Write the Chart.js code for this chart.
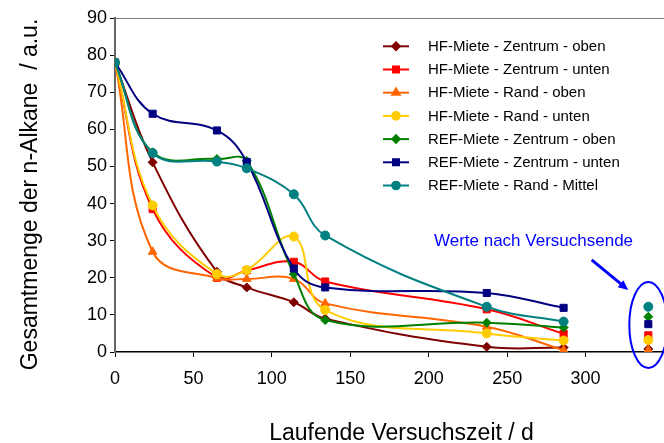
<!DOCTYPE html>
<html><head><meta charset="utf-8">
<script src="https://cdn.jsdelivr.net/npm/chart.js@4/dist/chart.umd.min.js"></script>
<style>html,body{margin:0;padding:0;background:#fff;}canvas{display:block;}</style>
</head><body>
<canvas id="c" width="664" height="443"></canvas>
<script>
// ---- data ----
const days = [0, 24, 65, 84, 114, 134, 237, 286];
const endDay = 340;
const seriesNames = [
  'HF-Miete - Zentrum - oben',
  'HF-Miete - Zentrum - unten',
  'HF-Miete - Rand - oben',
  'HF-Miete - Rand - unten',
  'REF-Miete - Zentrum - oben',
  'REF-Miete - Zentrum - unten',
  'REF-Miete - Rand - Mittel'
];
const hfZentrumOben  = [78, 51.1, 21.6, 17.4, 13.4, 9.0, 1.4, 1.2];
const hfZentrumUnten = [78, 38.5, 20.0, 22.0, 24.3, 19.0, 11.5, 4.9];
const hfRandOben     = [78, 27.0, 19.9, 19.7, 19.7, 13.1, 6.8, 0.5];
const hfRandUnten    = [78, 39.5, 21.0, 22.1, 31.1, 11.3, 5.0, 3.1];
const refZentrumOben = [78, 53.8, 52.0, 51.5, 21.0, 8.6, 7.9, 6.6];
const refZentrumUnten= [78, 64.2, 59.7, 51.2, 22.5, 17.4, 15.9, 11.9];
const refRandMittel  = [78, 53.6, 51.3, 49.5, 42.5, 31.4, 12.2, 8.2];
const endValues = [0.8, 4.5, 0.5, 3.2, 9.5, 7.5, 12.2];
const xTickValues = [0, 50, 100, 150, 200, 250, 300];
const yTickValues = [0, 10, 20, 30, 40, 50, 60, 70, 80, 90];
const xTitle = 'Laufende Versuchszeit / d';
const yTitle = 'Gesamtmenge der n-Alkane  / a.u.';
const noteText = 'Werte nach Versuchsende';

// ---- styles ----
const allSeries = [hfZentrumOben, hfZentrumUnten, hfRandOben, hfRandUnten, refZentrumOben, refZentrumUnten, refRandMittel];
const colors = ['#800000', '#FF0000', '#FF6600', '#FFCC00', '#008000', '#000080', '#008080'];
const pStyles = ['rectRot', 'rect', 'triangle', 'circle', 'rectRot', 'rect', 'circle'];
const pRadius = {rectRot: 4.5, rect: 5, triangle: 5, circle: 4.5};
const FONT = '"Liberation Sans", Arial, sans-serif';

const datasets = allSeries.map((vals, i) => ({
  label: seriesNames[i],
  data: days.map((d, k) => ({x: d, y: vals[k]}))
        .concat([{x: 313, y: null}, {x: endDay, y: endValues[i]}]),
  borderColor: colors[i],
  backgroundColor: colors[i],
  borderWidth: 2,
  pointStyle: pStyles[i],
  pointRadius: pRadius[pStyles[i]],
  pointBorderWidth: 1,
  tension: 0.4,
  spanGaps: false,
  order: allSeries.length - 1 - i
}));

const overlay = {
  id: 'overlay',
  afterDraw(chart) {
    const {ctx} = chart;
    const xs = chart.scales.x, ys = chart.scales.y;
    ctx.save();
    // axis titles
    ctx.fillStyle = '#000';
    ctx.font = '23px ' + FONT;
    ctx.textAlign = 'center';
    ctx.textBaseline = 'alphabetic';
    ctx.fillText(xTitle, 401.5, 440);
    ctx.save();
    ctx.translate(37, 194.5);
    ctx.rotate(-Math.PI / 2);
    ctx.fillText(yTitle, 0, 0);
    ctx.restore();
    // legend
    ctx.font = '15px ' + FONT;
    ctx.textAlign = 'left';
    ctx.textBaseline = 'middle';
    chart.data.datasets.forEach((ds, i) => {
      const yy = 46.3 + i * 23.2;
      ctx.strokeStyle = ds.borderColor;
      ctx.lineWidth = 2;
      ctx.beginPath(); ctx.moveTo(383, yy); ctx.lineTo(409, yy); ctx.stroke();
      ctx.fillStyle = ds.backgroundColor;
      Chart.helpers.drawPoint(ctx, {pointStyle: ds.pointStyle, radius: ds.pointRadius * 0.85, rotation: 0, borderWidth: 1}, 396, yy);
      ctx.fillStyle = '#000';
      ctx.fillText(ds.label, 428, yy + 0.5);
    });
    // annotation
    ctx.strokeStyle = '#0000FF';
    ctx.fillStyle = '#0000FF';
    ctx.lineWidth = 2;
    ctx.beginPath();
    ctx.ellipse(xs.getPixelForValue(340), ys.getPixelForValue(7.3), 19, 43, 0, 0, Math.PI * 2);
    ctx.stroke();
    const ax0 = xs.getPixelForValue(303.9), ay0 = ys.getPixelForValue(24.8);
    const ax1 = xs.getPixelForValue(327.2), ay1 = ys.getPixelForValue(16.7);
    const ang = Math.atan2(ay1 - ay0, ax1 - ax0);
    ctx.lineWidth = 3;
    ctx.beginPath();
    ctx.moveTo(ax0, ay0);
    ctx.lineTo(ax1 - 6 * Math.cos(ang), ay1 - 6 * Math.sin(ang));
    ctx.stroke();
    ctx.beginPath();
    ctx.moveTo(ax1, ay1);
    ctx.lineTo(ax1 - 10 * Math.cos(ang) + 4.5 * Math.sin(ang), ay1 - 10 * Math.sin(ang) - 4.5 * Math.cos(ang));
    ctx.lineTo(ax1 - 10 * Math.cos(ang) - 4.5 * Math.sin(ang), ay1 - 10 * Math.sin(ang) + 4.5 * Math.cos(ang));
    ctx.closePath();
    ctx.fill();
    ctx.font = '17px ' + FONT;
    ctx.textAlign = 'center';
    ctx.textBaseline = 'middle';
    ctx.fillText(noteText, xs.getPixelForValue(266.8), ys.getPixelForValue(29.8));
    ctx.restore();
  }
};

new Chart(document.getElementById('c'), {
  type: 'line',
  data: {datasets},
  options: {
    responsive: false,
    animation: false,
    devicePixelRatio: 1,
    layout: {autoPadding: false, padding: {top: 18, right: 0, bottom: 0, left: 0}},
    plugins: {legend: {display: false}, tooltip: {enabled: false}},
    scales: {
      x: {
        type: 'linear', min: 0, max: 350,
        afterBuildTicks: s => { s.ticks = xTickValues.map(v => ({value: v})); },
        afterFit: s => { s.height = 91; s.paddingRight = 0; s.paddingLeft = 0; },
        ticks: {color: '#000', font: {family: FONT, size: 18}, padding: 11, autoSkip: false, maxRotation: 0},
        grid: {drawOnChartArea: false, tickLength: 5, tickColor: '#000', tickWidth: 1},
        border: {color: '#000', width: 1.5}
      },
      y: {
        type: 'linear', min: 0, max: 90,
        afterBuildTicks: s => { s.ticks = yTickValues.map(v => ({value: v})); },
        afterFit: s => { s.width = 115; },
        ticks: {color: '#000', font: {family: FONT, size: 18}, padding: 3},
        grid: {
          color: c => (c.tick && c.tick.value === 90) ? '#808080' : 'rgba(0,0,0,0)',
          lineWidth: 1, tickLength: 5, tickColor: '#000', tickWidth: 1
        },
        border: {color: '#666', width: 2}
      }
    }
  },
  plugins: [overlay]
});
</script>
</body></html>
